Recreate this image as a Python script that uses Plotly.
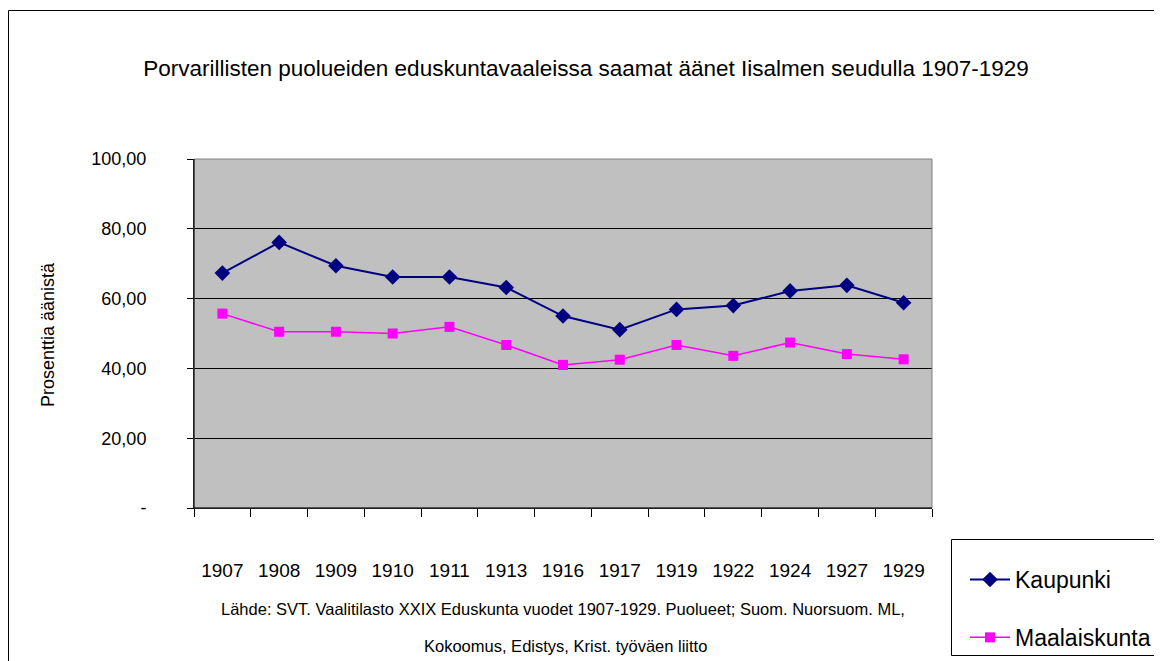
import plotly.graph_objects as go

years = ["1907", "1908", "1909", "1910", "1911", "1913", "1916", "1917",
         "1919", "1922", "1924", "1927", "1929"]
kaupunki = [67.3, 76.1, 69.4, 66.2, 66.2, 63.2, 55.0, 51.1, 56.9, 58.0, 62.2, 63.8, 58.8]
maalaiskunta = [55.7, 50.5, 50.5, 50.0, 51.9, 46.7, 41.0, 42.5, 46.7, 43.6, 47.4, 44.1, 42.6]
y_tickvals = [0, 20, 40, 60, 80, 100]
y_ticktext = ["-", "20,00", "40,00", "60,00", "80,00", "100,00"]

title_text = "Porvarillisten puolueiden eduskuntavaaleissa saamat äänet Iisalmen seudulla 1907-1929"
y_title = "Prosenttia äänistä"
source_1 = "Lähde: SVT. Vaalitilasto XXIX Eduskunta vuodet 1907-1929. Puolueet; Suom. Nuorsuom. ML,"
source_2 = "Kokoomus, Edistys, Krist. työväen liitto"

FONT = "Arial, Liberation Sans, sans-serif"
OFF = 8  # page body margin
W, H = 1162 - OFF, 661 - OFF
# plot area in page pixels
L, R, T, B = 194, 932, 159, 508
pw, ph = R - L, B - T

def px(x):
    return (x - L) / pw

def py(y):
    return (B - y) / ph

fig = go.Figure()
fig.add_trace(go.Scatter(
    x=years, y=kaupunki, name="Kaupunki", mode="lines+markers",
    line=dict(color="#000080", width=2),
    marker=dict(symbol="diamond", size=12, color="#000080"),
    legendgroup="a"))
fig.add_trace(go.Scatter(
    x=years, y=maalaiskunta, name="Maalaiskunta", mode="lines+markers",
    line=dict(color="#FF00FF", width=1.5),
    marker=dict(symbol="square", size=10, color="#FF00FF"),
    legendgroup="b"))

fig.update_layout(
    width=W, height=H,
    margin=dict(l=L - OFF, r=1162 - R, t=T - OFF, b=661 - B, autoexpand=False),
    paper_bgcolor="white", plot_bgcolor="#C0C0C0",
    font=dict(family=FONT, color="black"),
    title=dict(text=title_text, x=(586 - OFF) / W, y=1 - (68 - OFF) / H,
               xref="container", yref="container",
               xanchor="center", yanchor="middle",
               font=dict(size=22.5, family=FONT, color="black")),
    xaxis=dict(type="category", range=[-0.5, 12.5], tickson="boundaries",
               ticks="outside", ticklen=8, tickcolor="black", tickwidth=1,
               showline=True, linecolor="black", linewidth=1, showgrid=False,
               tickfont=dict(size=19, family=FONT, color="black"),
               ticklabelstandoff=45, fixedrange=True),
    yaxis=dict(range=[0, 100], tickvals=y_tickvals, ticktext=y_ticktext,
               ticks="outside", ticklen=6, tickcolor="black",
               showline=True, linecolor="black", linewidth=1,
               showgrid=True, gridcolor="black", gridwidth=1, zeroline=False,
               tickfont=dict(size=18, family=FONT, color="black"),
               ticklabelstandoff=37, fixedrange=True),
    legend=dict(x=px(965), y=py(558), xanchor="left", yanchor="top",
                borderwidth=0, bgcolor="rgba(0,0,0,0)",
                font=dict(size=23, family=FONT, color="black"),
                tracegroupgap=25, itemwidth=40),
    showlegend=True,
)

shapes = [
    # plot area border (grey)
    dict(type="rect", xref="paper", yref="paper", x0=0, x1=1, y0=0, y1=1,
         line=dict(color="#808080", width=1), layer="above"),
    dict(type="line", xref="paper", yref="paper", x0=0, x1=0, y0=0, y1=1,
         line=dict(color="black", width=1), layer="above"),
    dict(type="line", xref="paper", yref="paper", x0=0, x1=1, y0=0, y1=0,
         line=dict(color="black", width=1), layer="above"),
    # outer chart border (right and bottom beyond the canvas)
    dict(type="rect", xref="paper", yref="paper", x0=px(8.5), x1=px(1200), y0=py(700), y1=py(10.5),
         line=dict(color="black", width=1), layer="below"),
    # legend box
    dict(type="rect", xref="paper", yref="paper", x0=px(951.5), x1=px(1200), y0=py(655.5), y1=py(539.5),
         line=dict(color="black", width=1), fillcolor="white", layer="below"),
]
fig.update_layout(shapes=shapes)

annotations = [
    dict(text=y_title, xref="paper", yref="paper", x=px(48), y=py(335),
         textangle=-90, showarrow=False, xanchor="center", yanchor="middle",
         font=dict(size=18, family=FONT, color="black")),
    dict(text=source_1, xref="paper", yref="paper", x=px(563), y=py(609),
         showarrow=False, xanchor="center", yanchor="middle",
         font=dict(size=16.5, family=FONT, color="black")),
    dict(text=source_2, xref="paper", yref="paper", x=px(565), y=py(646),
         showarrow=False, xanchor="center", yanchor="middle",
         font=dict(size=16.5, family=FONT, color="black")),
]
fig.update_layout(annotations=annotations)

fig.write_html("out.html", config={"displayModeBar": False})
